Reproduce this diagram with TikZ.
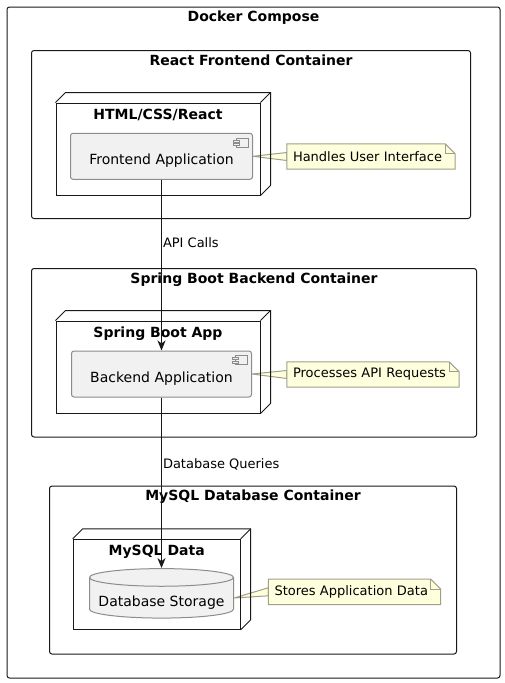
\documentclass[tikz,border=0pt]{standalone}
\usepackage{fontspec}
\setmainfont{DejaVu Sans}
\usetikzlibrary{arrows.meta, positioning, shapes, calc, backgrounds}

\definecolor{linegray}{HTML}{181818}
\definecolor{compfill}{HTML}{F1F1F1}
\definecolor{compline}{HTML}{8C8C8C}
\definecolor{notefill}{HTML}{FEFFDD}
\definecolor{noteline}{HTML}{A0A08A}

% depth of a deployment node (back face)
\newcommand{\nodedepth}[1]{%
  \draw[boxline] (#1.north west) -- ++(10,-10) -- ($(#1.north east)+(10,-10)$)
    -- ($(#1.south east)+(10,-10)$) -- (#1.south east);
  \draw[boxline] (#1.north east) -- ++(10,-10);}
% note with folded corner, hooked to a node
\newcommand{\notebox}[2]{%
  \begin{scope}[on background layer]
    \filldraw[noteshape] (#2.east) -- ($(#1.west)+(0,-4)$) -- ($(#1.west)+(0,4)$) -- cycle;
    \filldraw[noteshape] (#1.north west) -- ($(#1.north east)+(-10,0)$) -- ($(#1.north east)+(0,10)$)
      -- (#1.south east) -- (#1.south west) -- cycle;
    \draw[noteshape, fill=none] ($(#1.north east)+(-10,0)$) -- ($(#1.north east)+(-10,10)$)
      -- ($(#1.north east)+(0,10)$);
  \end{scope}}
% small component icon
\newcommand{\compicon}[1]{%
  \draw[compline, fill=compfill] ($(#1.north east)+(-17,5)$) rectangle ($(#1.north east)+(-5,14)$);
  \draw[compline, fill=compfill] ($(#1.north east)+(-20,7)$) rectangle ++(6,2);
  \draw[compline, fill=compfill] ($(#1.north east)+(-20,10.5)$) rectangle ++(6,2);}

\begin{document}
\begin{tikzpicture}[x=1pt, y=-1pt,
    boxline/.style={draw=linegray, line width=1pt},
    container/.style={boxline, rounded corners=2.5pt, inner sep=0},
    nodeface/.style={boxline, inner sep=0},
    ctitle/.style={font=\bfseries\fontsize{14}{16}\selectfont, inner sep=0},
    ntitle/.style={font=\bfseries\fontsize{14}{16}\selectfont, inner sep=0},
    component/.style={draw=compline, fill=compfill, line width=1pt, rounded corners=2.5pt,
      font=\fontsize{14}{16}\selectfont, text height=1.9em, text depth=.25em, inner ysep=0,
      minimum height=46},
    database/.style={cylinder, shape border rotate=90, aspect=0.14, draw=compline, fill=compfill,
      line width=1pt, font=\fontsize{14}{16}\selectfont, inner sep=0, text height=2.0em,
      text depth=.25em},
    noteshape/.style={draw=noteline, fill=notefill, line width=1pt},
    note/.style={font=\fontsize{13}{15}\selectfont, inner xsep=6pt, inner ysep=0, align=left,
      minimum height=25},
    flow/.style={boxline, -{Stealth[length=10pt, width=8pt, inset=3pt]}},
    edgelabel/.style={font=\fontsize{13}{15}\selectfont, inner xsep=1pt}]
  \useasboundingbox (0,0) rectangle (505,683);

  % outer box
  \node[container, minimum width=493, minimum height=671] (compose) at (253.5,342.5) {};
  \node[ctitle, below=4.5pt of compose.north] (composeTitle) {Docker Compose};

  % frontend
  \node[container, minimum width=439, minimum height=168] (reactBox) at (251,134.5) {};
  \node[ctitle, below=4.5pt of reactBox.north] (reactTitle) {React Frontend Container};
  \node[nodeface, minimum width=204, minimum height=92] (htmlNode) at (158,149) {};
  \nodedepth{htmlNode}
  \node[ntitle, below=6pt of htmlNode.north] (htmlTitle) {HTML/CSS/React};
  \node[component, minimum width=182] (frontApp) at (161.5,156.3) {Frontend Application};
  \compicon{frontApp}
  \node[note, text width=156] (uiNote) at (371,156.5) {Handles User Interface};
  \notebox{uiNote}{frontApp}

  % backend
  \node[container, minimum width=445, minimum height=168.5] (springBox) at (254,352.75) {};
  \node[ctitle, below=4.5pt of springBox.north] (springTitle) {Spring Boot Backend Container};
  \node[nodeface, minimum width=204, minimum height=92] (springNode) at (158,367) {};
  \nodedepth{springNode}
  \node[ntitle, below=6pt of springNode.north] (springNodeTitle) {Spring Boot App};
  \node[component, minimum width=180] (backApp) at (161.5,374) {Backend Application};
  \compicon{backApp}
  \node[note, text width=160] (apiNote) at (373,374.5) {Processes API Requests};
  \notebox{apiNote}{backApp}

  % database
  \node[container, minimum width=407, minimum height=168] (mysqlBox) at (253,570) {};
  \node[ctitle, below=4.5pt of mysqlBox.north] (mysqlTitle) {MySQL Database Container};
  \node[nodeface, minimum width=167, minimum height=90] (mysqlNode) at (156.7,584.3) {};
  \nodedepth{mysqlNode}
  \node[ntitle, below=6.5pt of mysqlNode.north] (mysqlNodeTitle) {MySQL Data};
  \node[database, minimum width=144, minimum height=47] (dbStore) at (161.5,598) {Database Storage};
  \node[note, text width=160] (dataNote) at (354.5,591.8) {Stores Application Data};
  \notebox{dataNote}{dbStore}

  % calls
  \draw[flow] (frontApp) -- node[edgelabel, pos=0.37, right] (apiLabel) {API Calls} (backApp);
  \draw[flow] (backApp) -- node[edgelabel, pos=0.39, right] (dbLabel) {Database Queries} (dbStore);
\end{tikzpicture}
\end{document}
